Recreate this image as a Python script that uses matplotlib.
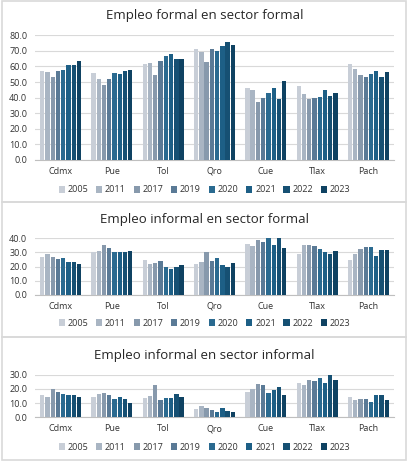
import matplotlib.pyplot as plt
import numpy as np
from matplotlib.patches import Rectangle

plt.rcParams["font.family"] = ["Open Sans", "DejaVu Sans"]

cities = ["Cdmx", "Pue", "Tol", "Qro", "Cue", "Tlax", "Pach"]
years = ["2005", "2011", "2017", "2019", "2020", "2021", "2022", "2023"]
colors = ["#c8ced7", "#a9b5c3", "#8799ac", "#5a7a96", "#2a6a90",
          "#1d5f86", "#165073", "#0f4262"]

# rows = cities, columns = years
formal_formal = [
    [57.0, 56.5, 53.0, 57.0, 58.0, 61.0, 61.0, 63.5],
    [55.5, 52.0, 48.0, 52.0, 56.0, 55.0, 57.0, 58.0],
    [61.5, 62.5, 54.5, 63.5, 66.5, 68.0, 64.5, 65.0],
    [71.5, 69.0, 63.0, 71.0, 70.0, 73.0, 75.5, 74.0],
    [46.5, 45.0, 37.5, 40.0, 43.0, 46.0, 39.0, 51.0],
    [47.5, 42.5, 39.0, 40.0, 40.5, 45.0, 41.0, 43.0],
    [61.5, 58.5, 54.5, 53.0, 55.0, 57.0, 53.5, 56.5],
]
informal_formal = [
    [26.7, 28.5, 26.7, 25.5, 26.0, 23.0, 23.4, 22.0],
    [30.0, 31.0, 35.0, 33.0, 30.5, 30.5, 30.0, 31.0],
    [24.5, 22.0, 22.5, 24.0, 20.0, 18.5, 19.5, 21.0],
    [22.0, 23.5, 30.0, 24.0, 26.0, 21.0, 19.5, 22.5],
    [35.5, 34.5, 38.5, 37.0, 40.0, 35.0, 40.0, 33.0],
    [28.5, 35.0, 35.0, 34.5, 32.0, 30.0, 29.0, 31.0],
    [24.5, 29.0, 32.5, 34.0, 34.0, 27.5, 31.5, 31.5],
]
informal_informal = [
    [16.0, 14.5, 20.0, 17.5, 16.5, 15.5, 15.5, 14.5],
    [14.5, 16.5, 17.0, 15.5, 13.0, 14.5, 13.0, 10.0],
    [13.5, 15.0, 23.0, 12.0, 13.5, 13.5, 16.5, 14.0],
    [6.0, 8.0, 6.5, 5.0, 4.0, 6.5, 4.5, 3.5],
    [17.5, 20.0, 23.5, 22.5, 17.0, 19.0, 21.0, 16.0],
    [24.0, 22.5, 26.0, 25.5, 28.0, 24.5, 30.0, 26.5],
    [14.0, 12.5, 13.0, 13.0, 11.0, 16.0, 15.5, 12.0],
]

W, H = 409, 471
fig = plt.figure(figsize=(W / 100, H / 100), dpi=100)


def fy(py):
    return 1 - py / H


panels = [
    # title, data, ymax, (box top, box bottom), title y, axis top, axis bottom, legend y
    ("Empleo formal en sector formal", formal_formal, 80, (1, 202), 16, 35.3, 160, 190),
    ("Empleo informal en sector formal", informal_formal, 40, (202, 337), 219, 238, 295, 323),
    ("Empleo informal en sector informal", informal_informal, 30, (337, 460), 355, 374.7, 417.3, 447),
]

for title, data, ymax, box, ty, atop, abot, ly in panels:
    fig.patches.append(Rectangle((2 / W, fy(box[1])), 404 / W, (box[1] - box[0]) / H,
                                 transform=fig.transFigure, fill=False,
                                 edgecolor="#d9d9d9", linewidth=1.2))
    ax = fig.add_axes([35 / W, fy(abot), 359 / W, (abot - atop) / H])
    vals = np.array(data)
    x = np.arange(len(cities))
    n = len(years)
    slot = 0.82 / n
    for j in range(n):
        ax.bar(x - 0.41 + slot * (j + 0.5), vals[:, j], width=slot * 0.82,
               color=colors[j], label=years[j], zorder=3)
    ax.set_xlim(-0.5, len(cities) - 0.5)
    ax.set_ylim(0, ymax)
    ax.set_yticks(np.arange(0, ymax + 1, 10))
    ax.set_yticklabels([f"{v:.1f}" for v in np.arange(0, ymax + 1, 10)])
    ax.set_xticks(x)
    ax.set_xticklabels(cities)
    ax.grid(axis="y", color="#d9d9d9", linewidth=0.8, zorder=0)
    for s in ["top", "right", "left"]:
        ax.spines[s].set_visible(False)
    ax.spines["bottom"].set_color("#bfbfbf")
    ax.tick_params(axis="both", length=0, labelsize=6.5, colors="#333333")
    ax.tick_params(axis="x", pad=5)
    ax.tick_params(axis="y", pad=5.5)
    fig.text(0.5, fy(ty), title, ha="center", va="center", fontsize=9.5, color="#262626")
    ax.legend(loc="center", bbox_to_anchor=(0.5, fy(ly)), bbox_transform=fig.transFigure,
              ncol=n, frameon=False, fontsize=6.5, handlelength=0.7, handleheight=0.7,
              handletextpad=0.3, columnspacing=0.85, borderpad=0, labelcolor="#333333")

fig.savefig("out.png", dpi=100)
